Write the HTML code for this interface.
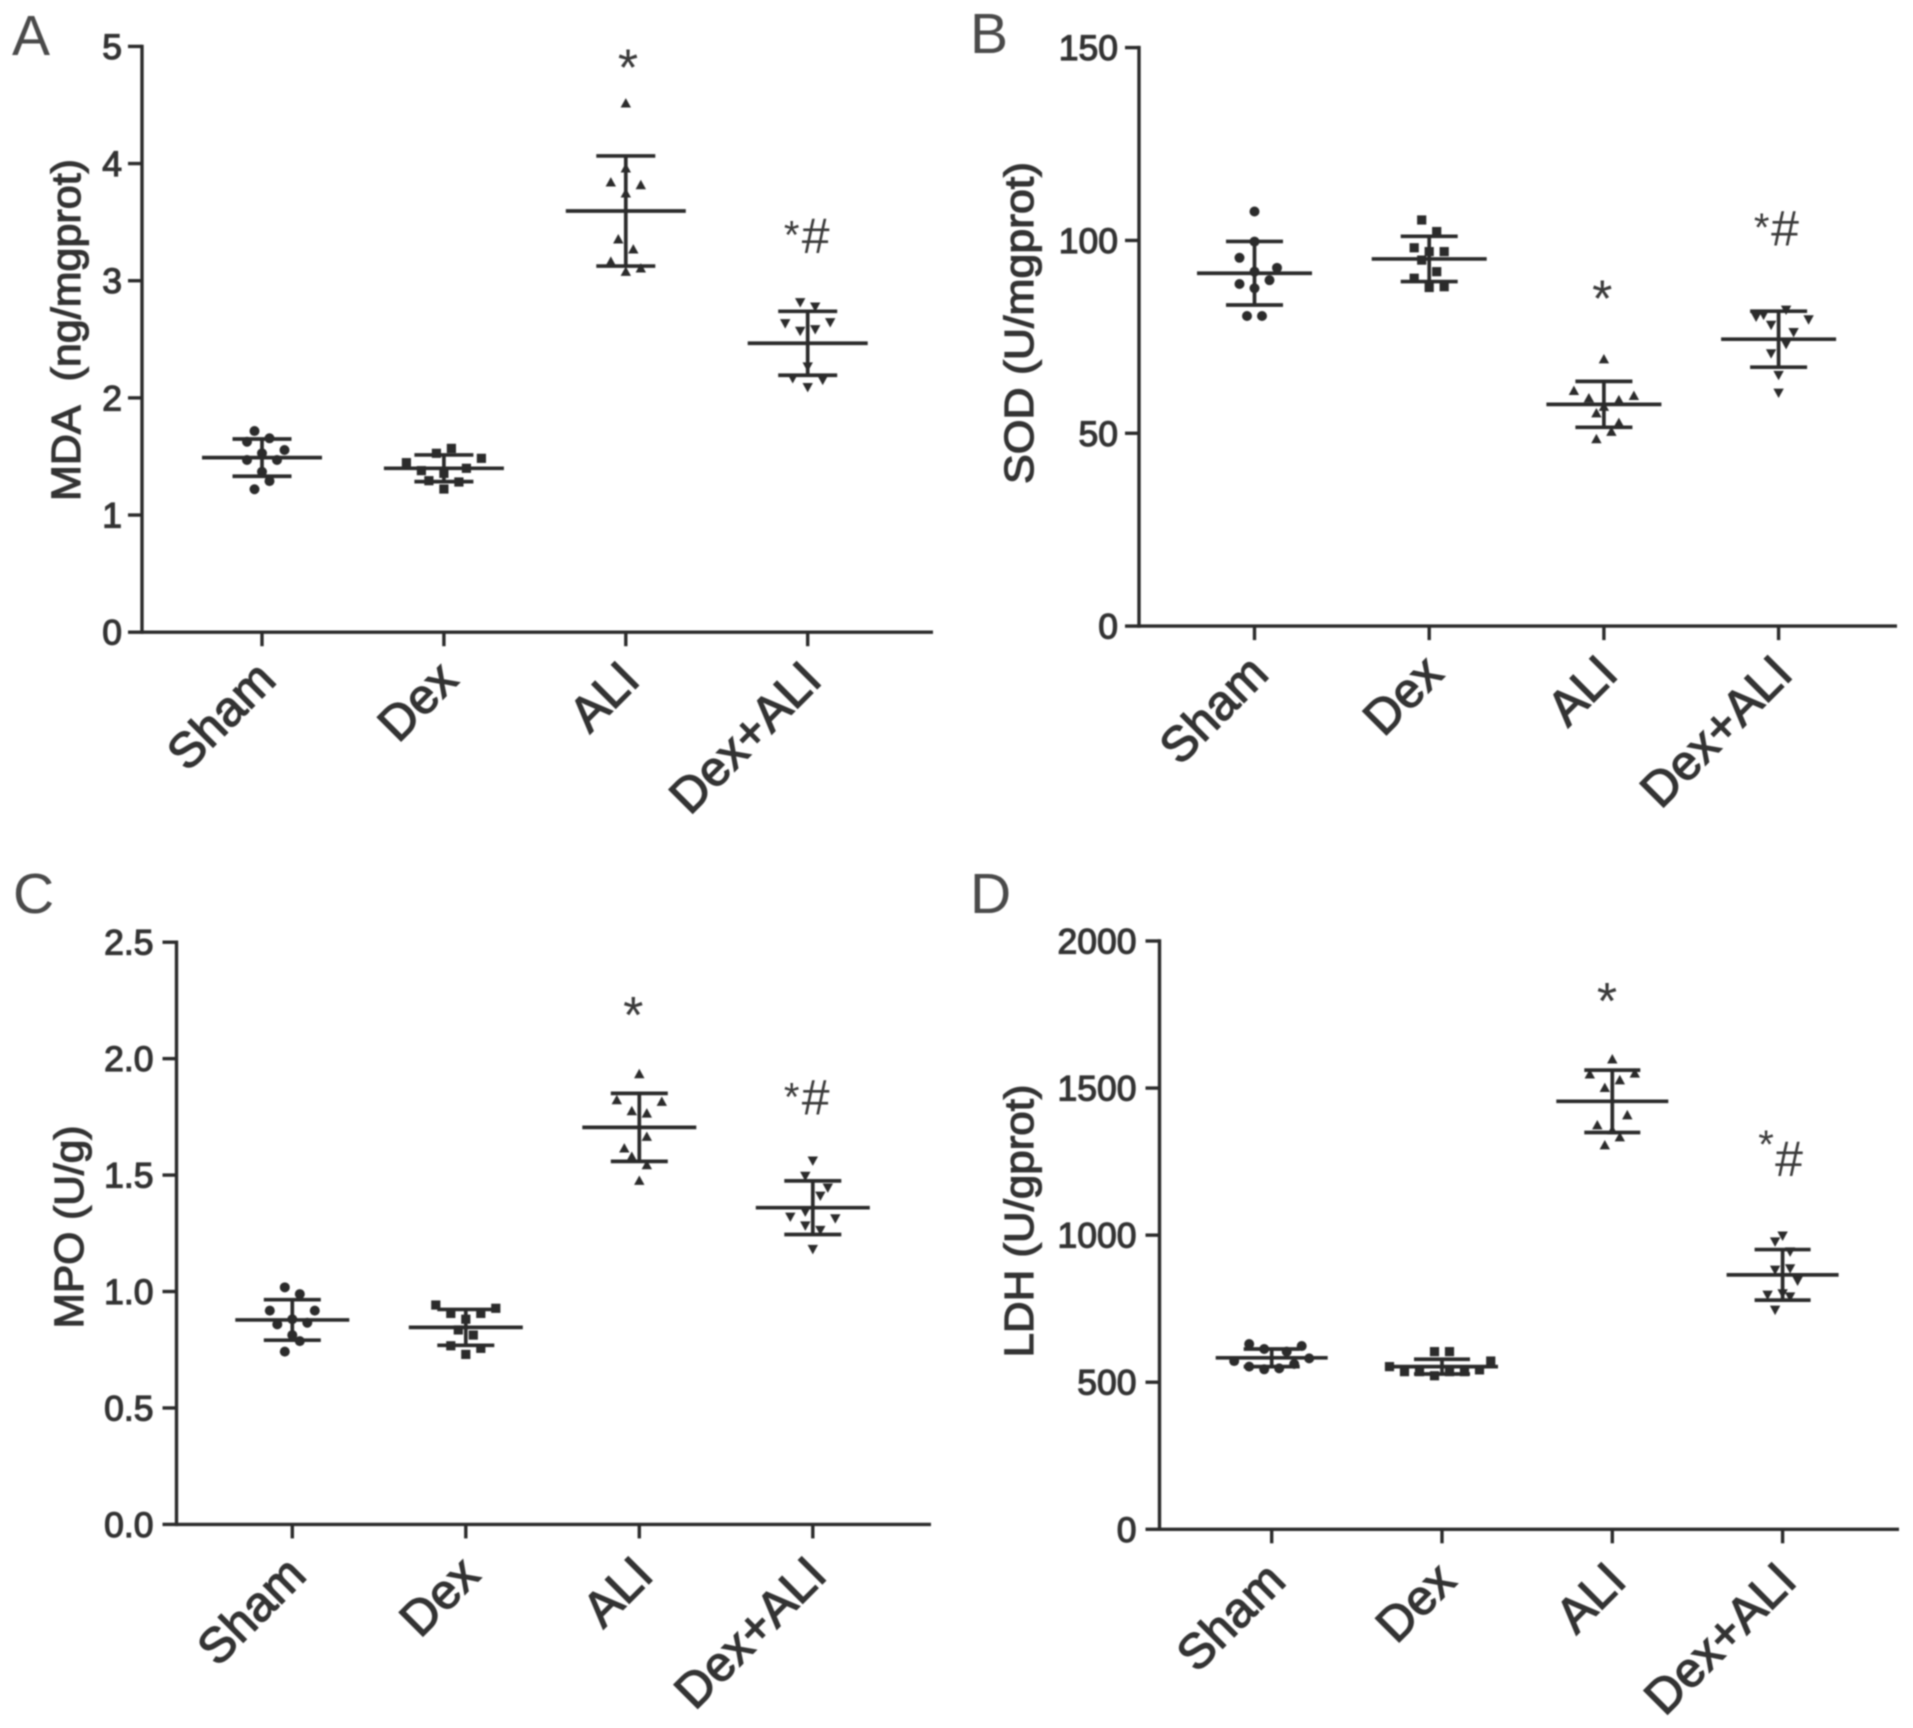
<!DOCTYPE html>
<html lang="en">
<head>
<meta charset="utf-8">
<title>MDA, SOD, MPO and LDH by treatment group</title>
<style>
html,body{margin:0;padding:0;background:#fff;}
#figure{display:block;width:1913px;height:1728px;filter:blur(0.7px);font-family:"Liberation Sans",Arial,sans-serif;}
</style>
</head>
<body>
<svg id="figure" xmlns="http://www.w3.org/2000/svg" width="1913" height="1728" viewBox="0 0 1913 1728">
  <rect x="0" y="0" width="1913" height="1728" fill="#ffffff"/>
  <g id="panel-A"></g>
  <g id="panel-B"></g>
  <g id="panel-C"></g>
  <g id="panel-D"></g>
</svg>
<script>
const categories = ['Sham', 'Dex', 'ALI', 'Dex+ALI'];

const mdaTicks = [0, 1, 2, 3, 4, 5];
const mdaTickLabels = ['0', '1', '2', '3', '4', '5'];
const mdaMeans = [1.490, 1.399, 3.595, 2.466];
const mdaSds = [0.159, 0.114, 0.470, 0.273];
const mdaSham = [1.717, 1.655, 1.626, 1.555, 1.527, 1.470, 1.470, 1.369, 1.290, 1.220];
const mdaDex = [1.569, 1.527, 1.484, 1.447, 1.399, 1.379, 1.356, 1.293, 1.282, 1.222];
const mdaAli = [4.514, 3.960, 3.840, 3.817, 3.746, 3.354, 3.268, 3.163, 3.106, 3.077];
const mdaDexAli = [2.816, 2.778, 2.645, 2.636, 2.585, 2.571, 2.267, 2.167, 2.153, 2.091];
const mdaShamBins = [-1, 1, -2, 3, 0, -2, 2, 0, 1, -1];
const mdaDexBins = [1, -1, 5, -5, 3, -3, 0, -2, 2, 0];
const mdaAliBins = [0, 0, -2, 2, 0, -1, 1, -2, 2, 0];
const mdaDexAliBins = [-1, 1, 3, -3, 1, -1, 0, -2, 2, 0];

const sodTicks = [0, 50, 100, 150];
const sodTickLabels = ['0', '50', '100', '150'];
const sodMeans = [91.5, 95.2, 57.5, 74.4];
const sodSds = [8.24, 5.87, 5.96, 7.26];
const sodSham = [107.5, 99.7, 95.5, 92.9, 91.9, 89.7, 88.7, 87.6, 80.4, 80.4];
const sodDex = [105.3, 102.3, 98.1, 97.1, 97.1, 94.9, 91.9, 90.2, 87.8, 88.0];
const sodAli = [69.2, 61.0, 59.7, 59.1, 58.6, 56.9, 55.2, 52.7, 50.4, 48.5];
const sodDexAli = [80.2, 80.7, 82.0, 79.5, 78.1, 76.2, 73.1, 70.7, 65.1, 60.5];
const sodShamBins = [0, 0, -2, 3, 0, 2, -2, 0, -1, 1];
const sodDexBins = [-1, 1, -2, 0, 2, -1, 1, -2, 0, 2];
const sodAliBins = [0, -4, 4, -2, 2, 0, -1, 2, 1, -1];
const sodDexAliBins = [-3, -2, 1, 4, -1, 2, 1, -1, 0, 0];

const mpoTicks = [0, 0.5, 1, 1.5, 2, 2.5];
const mpoTickLabels = ['0.0', '0.5', '1.0', '1.5', '2.0', '2.5'];
const mpoMeans = [0.878, 0.846, 1.705, 1.360];
const mpoSds = [0.087, 0.077, 0.146, 0.115];
const mpoSham = [1.018, 0.989, 0.918, 0.918, 0.859, 0.866, 0.881, 0.813, 0.787, 0.742];
const mpoDex = [0.942, 0.928, 0.906, 0.906, 0.881, 0.835, 0.813, 0.767, 0.756, 0.730];
const mpoAli = [1.934, 1.822, 1.815, 1.775, 1.765, 1.665, 1.615, 1.579, 1.543, 1.476];
const mpoDexAli = [1.562, 1.496, 1.446, 1.411, 1.321, 1.343, 1.314, 1.283, 1.264, 1.182];
const mpoShamBins = [-1, 1, -3, 3, -2, 2, 0, 0, 1, -1];
const mpoDexBins = [-4, 4, -2, 2, 0, -1, 1, -2, 2, 0];
const mpoAliBins = [0, -3, 3, -1, 1, 1, -2, -1, 1, 0];
const mpoDexAliBins = [0, -1, 2, 1, -3, -1, 3, -1, 1, 0];

const ldhTicks = [0, 500, 1000, 1500, 2000];
const ldhTickLabels = ['0', '500', '1000', '1500', '2000'];
const ldhMeans = [583, 553, 1455, 865];
const ldhSds = [30, 25, 106, 86];
const ldhSham = [630, 613, 623, 604, 572, 581, 553, 544, 547, 562];
const ldhDex = [604, 604, 572, 553, 536, 536, 522, 536, 536, 542];
const ldhAli = [1598, 1547, 1550, 1527, 1501, 1408, 1374, 1357, 1333, 1306];
const ldhDexAli = [998, 978, 944, 882, 887, 845, 797, 802, 791, 746];
const ldhShamBins = [-3, -1, 4, 2, -5, 5, -3, -1, 1, 3];
const ldhDexBins = [-1, 1, 6.5, -7, -5, -3, -1, 1, 3, 5];
const ldhAliBins = [0, -3, 3, 1, -1, 2, -2, 0, 1, -1];
const ldhDexAliBins = [0, -1, 1, -1, 1, 2, -2, 0, 1, -1];

const INK = '#2b2b2b';
const TEXT_INK = '#333333';
const SVG_NS = 'http://www.w3.org/2000/svg';
const BIN_WIDTH = 7.5;

const panelLayouts = [
  {id: 'A', key: 'mda', letterX: 12, letterY: 55, title: 'MDA\u00a0 (ng/mgprot)', titleX: 80, titleY: 330, titleLen: 342,
   axisX: 142, axisEnd: 933, top: 46.4, base: 632.2, first: 262, step: 181.9, meanHalf: 60, capHalf: 29.5, labelDrop: 50, tickGap: 20, max: 5,
   ticks: mdaTicks, tickLabels: mdaTickLabels, means: mdaMeans, sds: mdaSds,
   series: [mdaSham, mdaDex, mdaAli, mdaDexAli], bins: [mdaShamBins, mdaDexBins, mdaAliBins, mdaDexAliBins],
   star: [628, 55.7], combo: [791.7, 225.7, 815.7, 235]},
  {id: 'B', key: 'sod', letterX: 970, letterY: 53, title: 'SOD (U/mgprot)', titleX: 1033, titleY: 323, titleLen: 322,
   axisX: 1139, axisEnd: 1897, top: 47.6, base: 626.1, first: 1254.5, step: 174.7, meanHalf: 57.5, capHalf: 28.5, labelDrop: 50, tickGap: 21, max: 150,
   ticks: sodTicks, tickLabels: sodTickLabels, means: sodMeans, sds: sodSds,
   series: [sodSham, sodDex, sodAli, sodDexAli], bins: [sodShamBins, sodDexBins, sodAliBins, sodDexAliBins],
   star: [1602.3, 286.7], combo: [1761.7, 218, 1785, 227.3]},
  {id: 'C', key: 'mpo', letterX: 13, letterY: 913, title: 'MPO (U/g)', titleX: 83, titleY: 1227, titleLen: 203,
   axisX: 176.5, axisEnd: 931, top: 942.2, base: 1524.4, first: 292.3, step: 173.5, meanHalf: 57, capHalf: 28.5, labelDrop: 53, tickGap: 23, max: 2.5,
   ticks: mpoTicks, tickLabels: mpoTickLabels, means: mpoMeans, sds: mpoSds,
   series: [mpoSham, mpoDex, mpoAli, mpoDexAli], bins: [mpoShamBins, mpoDexBins, mpoAliBins, mpoDexAliBins],
   star: [633.3, 1003], combo: [791.7, 1087.3, 815.7, 1096.7]},
  {id: 'D', key: 'ldh', letterX: 970, letterY: 913, title: 'LDH (U/gprot)', titleX: 1033, titleY: 1221, titleLen: 273,
   axisX: 1159.5, axisEnd: 1899, top: 941, base: 1529.3, first: 1271.7, step: 170.3, meanHalf: 56, capHalf: 28, labelDrop: 54, tickGap: 23, max: 2000,
   ticks: ldhTicks, tickLabels: ldhTickLabels, means: ldhMeans, sds: ldhSds,
   series: [ldhSham, ldhDex, ldhAli, ldhDexAli], bins: [ldhShamBins, ldhDexBins, ldhAliBins, ldhDexAliBins],
   star: [1607, 989], combo: [1766, 1135, 1789, 1158]}
];

function make(parent, tag, attrs, content) {
  const el = document.createElementNS(SVG_NS, tag);
  Object.keys(attrs).forEach(function (k) { el.setAttribute(k, attrs[k]); });
  if (content !== undefined) el.textContent = content;
  parent.appendChild(el);
  return el;
}

function strokeLine(parent, x1, y1, x2, y2, width) {
  return make(parent, 'line', {x1: x1, y1: y1, x2: x2, y2: y2, stroke: INK, 'stroke-width': width});
}

function drawMarker(parent, shape, x, y) {
  if (shape === 0) {
    return make(parent, 'circle', {cx: x, cy: y, r: 5, fill: INK});
  }
  if (shape === 1) {
    return make(parent, 'rect', {x: x - 4.6, y: y - 4.6, width: 9.2, height: 9.2, fill: INK});
  }
  const dir = shape === 2 ? 1 : -1;
  const pts = [[x, y - 5.2 * dir], [x - 5.2, y + 4.2 * dir], [x + 5.2, y + 4.2 * dir]];
  return make(parent, 'polygon', {points: pts.map(function (p) { return p.join(','); }).join(' '), fill: INK});
}

function drawPanel(p) {
  const root = document.getElementById('panel-' + p.id);
  const yScale = function (v) { return p.base - (v / p.max) * (p.base - p.top); };
  const xScale = function (i) { return p.first + i * p.step; };

  const letter = make(root, 'text', {x: p.letterX, y: p.letterY, 'font-size': 57, fill: '#4a4a4a'}, p.id);
  
  

  const title = make(root, 'text', {
    x: p.titleX, y: p.titleY, 'font-size': 41, fill: TEXT_INK, stroke: TEXT_INK, 'stroke-width': 1.2,
    'text-anchor': 'middle', textLength: p.titleLen, lengthAdjust: 'spacingAndGlyphs',
    transform: 'rotate(-90 ' + p.titleX + ' ' + p.titleY + ')'
  }, p.title);
  
  

  const yAxis = strokeLine(root, p.axisX, p.top - 1.7, p.axisX, p.base + 1.7, 3.4);
  
  

  const xAxis = strokeLine(root, p.axisX, p.base, p.axisEnd, p.base, 3.4);
  
  

  p.ticks.forEach(function (t, i) {
    const y = yScale(t);
    const tick = strokeLine(root, p.axisX - 14, y, p.axisX, y, 3.4);
    
    
    const lab = make(root, 'text', {
      x: p.axisX - p.tickGap, y: y + 12.5, 'font-size': 35.5, fill: TEXT_INK, stroke: TEXT_INK, 'stroke-width': 1.2, 'text-anchor': 'end'
    }, p.tickLabels[i]);
    
    
  });

  categories.forEach(function (c, i) {
    const x = xScale(i);
    const tick = strokeLine(root, x, p.base, x, p.base + 14, 3.4);
    
    
    const lx = x + 16;
    const ly = p.base + p.labelDrop;
    const lab = make(root, 'text', {
      x: lx, y: ly, 'font-size': 49, fill: TEXT_INK, stroke: TEXT_INK, 'stroke-width': 1.3, 'text-anchor': 'end',
      transform: 'rotate(-45 ' + lx + ' ' + ly + ')'
    }, c);
    
    

    const group = make(root, 'g', {});
    
    

    p.series[i].forEach(function (v, k) {
      const dot = drawMarker(group, i, x + p.bins[i][k] * BIN_WIDTH, yScale(v));
      
      
    });

    const m = p.means[i];
    const s = p.sds[i];
    const stem = strokeLine(group, x, yScale(m + s), x, yScale(m - s), 3.7);
    
    
    const capHi = strokeLine(group, x - p.capHalf, yScale(m + s), x + p.capHalf, yScale(m + s), 3.7);
    
    
    const capLo = strokeLine(group, x - p.capHalf, yScale(m - s), x + p.capHalf, yScale(m - s), 3.7);
    
    
    const meanLine = strokeLine(group, x - p.meanHalf, yScale(m), x + p.meanHalf, yScale(m), 3.7);
    
    
  });

  const star = make(root, 'text', {
    x: p.star[0], y: p.star[1] + 30, 'font-size': 52, fill: '#3a3a3a', 'text-anchor': 'middle'
  }, '*');
  
  

  const comboStar = make(root, 'text', {
    x: p.combo[0], y: p.combo[1] + 23, 'font-size': 40, fill: '#3a3a3a', 'text-anchor': 'middle'
  }, '*');
  
  

  const hash = make(root, 'text', {
    x: p.combo[2], y: p.combo[3] + 18, 'font-size': 50, fill: '#3a3a3a', 'text-anchor': 'middle'
  }, '#');
  
  
}

panelLayouts.forEach(drawPanel);
</script>
</body>
</html>
